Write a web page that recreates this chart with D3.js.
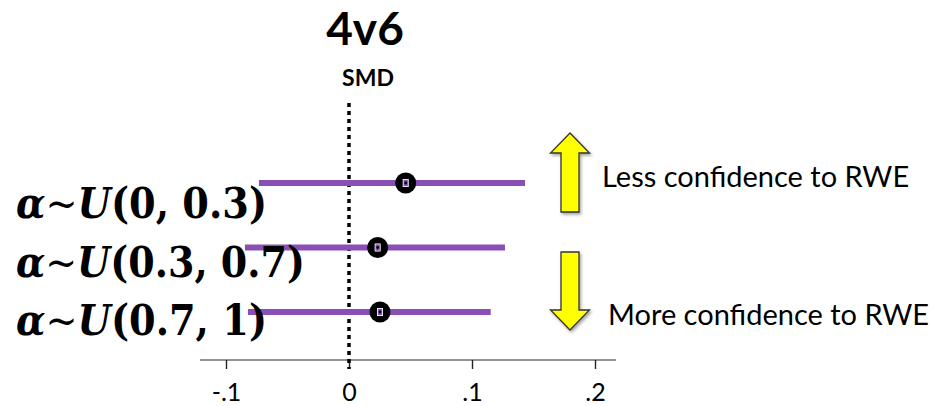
<!DOCTYPE html>
<html>
<head>
<meta charset="utf-8">
<script src="https://cdn.jsdelivr.net/npm/d3@7"></script>
<style>
  html, body { margin: 0; padding: 0; background: #fff; }
  svg { display: block; }
</style>
</head>
<body>
<svg id="chart" width="933" height="406"></svg>
<script>
// Sensitivity rows: prior on alpha, estimate and interval of the SMD
const priors = [
  { head: "\u03b1", sym: "U", args: "(0, 0.3)" },
  { head: "\u03b1", sym: "U", args: "(0.3, 0.7)" },
  { head: "\u03b1", sym: "U", args: "(0.7, 1)" }
];
const estimates = [0.0461, 0.0233, 0.0252];
const lowers    = [-0.0732, -0.0846, -0.0821];
const uppers    = [0.1431, 0.1268, 0.1152];
const tickValues = [-0.1, 0, 0.1, 0.2];
const tickLabels = ["-.1", "0", ".1", ".2"];
const title = "4v6";
const axisTitle = "SMD";
const notes = ["Less confidence to RWE", "More confidence to RWE"];

const svg = d3.select("#chart");

const x = d3.scaleLinear().domain([-0.1, 0.2]).range([226, 595]);
const y = d3.scalePoint().domain(d3.range(priors.length)).range([183, 312]);

const purple = "#8a4fb5";
const sans = "Lato, 'Open Sans', sans-serif";

// shadow for the arrows
const defs = svg.append("defs");
const f = defs.append("filter").attr("id", "shadow").attr("x", "-30%").attr("y", "-30%").attr("width", "160%").attr("height", "160%");
f.append("feDropShadow").attr("dx", 1.5).attr("dy", 2).attr("stdDeviation", 1.5).attr("flood-color", "#000").attr("flood-opacity", 0.35);

// title and axis name
svg.append("text").attr("x", 365).attr("y", 45).attr("text-anchor", "middle")
  .attr("font-family", sans).attr("font-weight", 700)
  .attr("font-size", 46).attr("fill", "#000").text(title);
svg.append("text").attr("x", 368).attr("y", 86).attr("text-anchor", "middle")
  .attr("font-family", sans).attr("font-weight", 700)
  .attr("font-size", 23).attr("fill", "#000").text(axisTitle);

// x axis
const axisG = svg.append("g").attr("transform", "translate(0,360)");
axisG.append("line").attr("x1", 200).attr("x2", 616).attr("y1", 0).attr("y2", 0)
  .attr("stroke", "#6e6e6e").attr("stroke-width", 1.6);
const axis = d3.axisBottom(x).tickValues(tickValues).tickSize(9)
  .tickFormat((d, i) => tickLabels[i]);
axisG.call(axis);
axisG.select(".domain").remove();
axisG.selectAll(".tick line").attr("stroke", "#222").attr("stroke-width", 1.4);
axisG.selectAll(".tick text").attr("font-family", sans)
  .attr("font-size", 25).attr("fill", "#000").attr("y", 40.5).attr("dy", 0);

// reference line at zero
svg.append("line").attr("x1", x(0)).attr("x2", x(0)).attr("y1", 103).attr("y2", 369)
  .attr("stroke", "#000").attr("stroke-width", 3.5).attr("stroke-dasharray", "4,4");

// interval lines
svg.selectAll("line.ci").data(priors).join("line").attr("class", "ci")
  .attr("x1", (d, i) => x(lowers[i])).attr("x2", (d, i) => x(uppers[i]))
  .attr("y1", (d, i) => y(i)).attr("y2", (d, i) => y(i))
  .attr("stroke", purple).attr("stroke-width", 6);

// point estimates
const pts = svg.selectAll("g.pt").data(priors).join("g").attr("class", "pt")
  .attr("transform", (d, i) => `translate(${x(estimates[i])},${y(i)})`);
pts.append("circle").attr("r", 10.5).attr("fill", "#000");
pts.append("rect").attr("x", -3).attr("y", -4).attr("width", 6).attr("height", 8).attr("fill", "#fff");
pts.append("rect").attr("x", -2.2).attr("y", -3.2).attr("width", 4.4).attr("height", 6.4).attr("fill", purple);
pts.append("circle").attr("r", 1.4).attr("fill", "#000");

// prior labels
const baselines = [218, 277, 335];
const labelWidths = [251, 289, 251];
const lab = svg.selectAll("text.prior").data(priors).join("text").attr("class", "prior")
  .attr("x", 16).attr("y", (d, i) => baselines[i])
  .attr("textLength", (d, i) => labelWidths[i]).attr("lengthAdjust", "spacingAndGlyphs")
  .attr("font-family", "'DejaVu Serif', serif").attr("font-weight", 700)
  .attr("font-size", 42).attr("fill", "#000");
lab.append("tspan").attr("font-style", "italic").text(d => d.head);
lab.append("tspan").attr("font-weight", 400).text("~");
lab.append("tspan").attr("font-style", "italic").text(d => d.sym);
lab.append("tspan").text(d => d.args);

// arrows
function arrowPath(cx, top, bottom, up) {
  const sw = 9, hw = 19.5, hh = 20;
  if (up) {
    return `M${cx},${top} L${cx + hw},${top + hh} L${cx + sw},${top + hh} L${cx + sw},${bottom} L${cx - sw},${bottom} L${cx - sw},${top + hh} L${cx - hw},${top + hh} Z`;
  }
  return `M${cx},${bottom} L${cx + hw},${bottom - hh} L${cx + sw},${bottom - hh} L${cx + sw},${top} L${cx - sw},${top} L${cx - sw},${bottom - hh} L${cx - hw},${bottom - hh} Z`;
}
svg.append("path").attr("d", arrowPath(570, 133, 212, true))
  .attr("fill", "#ffff00").attr("stroke", "#333").attr("stroke-width", 1.3).attr("filter", "url(#shadow)");
svg.append("path").attr("d", arrowPath(570, 252, 330, false))
  .attr("fill", "#ffff00").attr("stroke", "#333").attr("stroke-width", 1.3).attr("filter", "url(#shadow)");

svg.append("text").attr("x", 602).attr("y", 187)
  .attr("font-family", sans).attr("font-size", 29).attr("fill", "#000").text(notes[0]);
svg.append("text").attr("x", 608).attr("y", 325)
  .attr("font-family", sans).attr("font-size", 29).attr("fill", "#000").text(notes[1]);
</script>
</body>
</html>
